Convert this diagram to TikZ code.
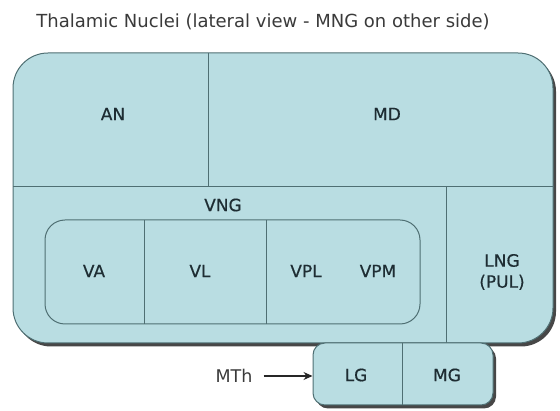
\documentclass[tikz,border=0pt]{standalone}
\usepackage{fontspec}
\setmainfont{DejaVu Sans}
\newfontfamily\labfont[FakeBold=0.5]{DejaVu Sans}
\usetikzlibrary{shadows,arrows.meta}
\definecolor{nucfill}{HTML}{B9DDE2}
\definecolor{nucline}{HTML}{4F6F73}
\definecolor{labtxt}{HTML}{1E2D33}
\definecolor{titletxt}{HTML}{3A3A3A}
\begin{document}
\begin{tikzpicture}[x=1pt,y=-1pt,
  region/.style={draw=nucline, line width=1pt, fill=nucfill, inner sep=0pt,
     drop shadow={shadow xshift=3pt, shadow yshift=-3.5pt, fill=black!80, opacity=0.9}},
  innerbox/.style={draw=nucline, line width=1pt, fill=nucfill, inner sep=0pt},
  divider/.style={draw=nucline, line width=1pt},
  lab/.style={text=labtxt, font=\labfont\fontsize{17}{21}\selectfont, align=center, inner sep=1pt},
  side/.style={text=titletxt, font=\fontsize{17.5}{21}\selectfont, inner sep=1pt},
  ttl/.style={text=titletxt, font=\fontsize{18}{21}\selectfont, inner sep=0pt}
]
\useasboundingbox (0,0) rectangle (560,411);
\node[ttl] (title) at (263,22) {Thalamic Nuclei (lateral view - MNG on other side)};
% outer thalamus
\node[region, rounded corners=35pt, minimum width=540pt, minimum height=290pt] (thal) at (283,198) {};
\coordinate (hL) at (13,187);
\coordinate (hR) at (553,187);
\coordinate (v1t) at (208,53);
\coordinate (v1b) at (208,187);
\coordinate (v2t) at (446,187);
\coordinate (v2b) at (446,343);
\draw[divider] (hL) -- (hR);
\draw[divider] (v1t) -- (v1b);
\draw[divider] (v2t) -- (v2b);
% inner VNG box
\node[innerbox, rounded corners=20pt, minimum width=375pt, minimum height=104pt] (vbox) at (232.5,272) {};
\coordinate (d1t) at (144,220);
\coordinate (d1b) at (144,324);
\coordinate (d2t) at (266,220);
\coordinate (d2b) at (266,324);
\draw[divider] (d1t) -- (d1b);
\draw[divider] (d2t) -- (d2b);
% geniculate box
\node[region, rounded corners=12pt, minimum width=180pt, minimum height=62pt] (geni) at (403,374) {};
\coordinate (gt) at (402,343);
\coordinate (gb) at (402,405);
\draw[divider] (gt) -- (gb);
% labels
\node[lab] (AN) at (113,114) {AN};
\node[lab] (MD) at (387,114) {MD};
\node[lab] (VNG) at (223,205) {VNG};
\node[lab] (VA) at (94,271) {VA};
\node[lab] (VL) at (200,271) {VL};
\node[lab] (VPL) at (306,271) {VPL};
\node[lab] (VPM) at (378,271) {VPM};
\node[lab] (LNG) at (502,272) {LNG\\(PUL)};
\node[lab] (LG) at (356,375) {LG};
\node[lab] (MG) at (447,375) {MG};
\node[side] (MTh) at (234,376) {MTh};
\draw[line width=1.2pt, draw=black!85, -{Stealth[length=9pt,width=8pt]}] (MTh.east) ++(10,0) coordinate (mstart) (mstart) -- (geni.west |- mstart);
\end{tikzpicture}
\end{document}
